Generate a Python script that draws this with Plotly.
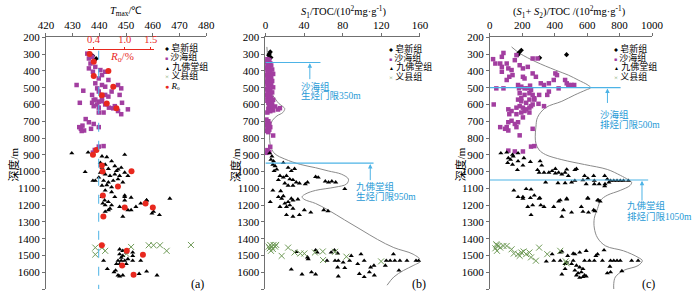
import plotly.graph_objects as go

W, H = 700, 293

# ---------------- data ----------------
# Panel (a): Tmax (°C) vs depth (m)
a_fx_T = [437.5, 438.8]
a_fx_D = [310, 327]
a_sh_T = [435.5, 436.1, 436.7, 437.3, 436.1, 437.6, 438.5, 440.4, 441.0, 442.2, 439.8, 438.5, 441.0, 442.2,
          439.8, 439.2, 443.4, 444.6, 447.0, 448.2, 447.6, 431.5, 434.0, 442.2, 437.3, 441.0, 437.9, 439.8,
          443.4, 438.5, 437.3, 439.2, 441.0, 437.9, 439.8, 442.2, 443.6, 445.2, 445.8, 447.0, 448.2, 448.5,
          450.7, 432.7, 441.6, 439.8, 434.9, 436.1, 437.9, 433.7, 433.1, 434.3, 436.9, 439.8, 432.5, 433.4,
          438.3, 439.8, 441.6, 437.6]
a_sh_D = [297, 326, 356, 316, 385, 405, 376, 395, 425, 405, 445, 474, 484, 494,
          523, 504, 454, 523, 484, 504, 543, 484, 518, 543, 543, 563, 573, 583,
          553, 571, 590, 600, 581, 610, 619, 600, 619, 623, 610, 639, 658, 590,
          629, 590, 648, 648, 687, 706, 716, 726, 745, 755, 745, 735, 735, 758,
          871, 851, 848, 887]
a_jf_T = [429.7, 435.8, 434.7, 441.0, 442.8, 444.6, 440.4, 442.2, 441.0, 443.4, 445.8, 447.0, 449.5, 440.4,
          442.2, 444.0, 445.8, 447.6, 449.5, 450.7, 439.8, 441.6, 443.4, 445.2, 447.0, 448.8, 441.0, 442.8,
          444.6, 437.6, 438.5, 446.4, 448.2, 442.2, 444.6, 457.7, 451.9, 449.5,
          441.0, 442.0, 443.4, 442.2, 444.6, 445.8, 449.5, 449.5, 447.6, 444.0, 443.4, 442.2, 450.7, 451.9,
          453.7, 455.5, 457.7, 459.7, 460.3, 462.5, 466.4, 448.8, 441.3,
          447.6, 448.8, 447.6, 448.8, 450.1, 452.5, 452.5, 441.6, 447.0, 448.2, 449.5, 450.7, 452.5, 455.5,
          446.4, 447.6, 448.8, 450.1, 443.0, 446.1, 445.5, 447.0, 447.6, 448.8, 454.9, 457.7, 461.6, 448.2]
a_jf_D = [890, 886, 1002, 909, 913, 938, 948, 958, 977, 983, 967, 987, 899, 1006,
          1016, 1025, 1016, 1025, 1006, 1025, 1035, 1054, 1064, 1054, 1045, 1064, 1083, 1080,
          1093, 1054, 1054, 996, 977, 1112, 1122, 1170, 1155, 1142,
          1151, 1171, 1181, 1200, 1200, 1151, 1151, 1171, 1210, 1220, 1229, 1239, 1229, 1229,
          1210, 1190, 1171, 1249, 1239, 1258, 1161, 1268, 1190,
          1463, 1472, 1492, 1502, 1482, 1482, 1502, 1531, 1531, 1531, 1531, 1521, 1531, 1531,
          1550, 1550, 1560, 1550, 1580, 1589, 1599, 1618, 1624, 1618, 1609, 1595, 1618, 1512]
a_yx_T = [438.5, 438.5, 442.2, 441.0, 451.9, 458.5, 460.3, 462.7, 465.2, 474.3, 450.1]
a_yx_D = [1453, 1494, 1472, 1453, 1449, 1439, 1439, 1439, 1472, 1437, 1490]
a_ro_R = [0.325, 0.405, 0.405, 0.686, 0.78, 0.56, 0.655, 0.84, 0.25, 0.456, 0.39, 0.56, 0.574,
          1.13, 0.87, 0.58, 0.59, 1.0, 1.40, 1.54, 0.56, 1.04, 1.35, 0.95, 1.17]
a_ro_D = [300, 346, 431, 401, 494, 545, 594, 623, 726, 871, 899, 963, 1000,
          998, 1089, 1142, 1268, 1214, 1190, 1214, 1439, 1472, 1496, 1560, 1614]

# Panel (b): S1/TOC vs depth
b_fx_V = [5.0, 3.4, 5.7, 4.0]
b_fx_D = [287, 306, 320, 300]
b_sh_V = [2, 4, 1, 3, 5, 2, 6, 3, 1, 4, 7, 2, 5, 3, 8, 1, 4, 6, 2, 5, 3, 7, 1, 4, 2, 6, 3, 8, 1, 5,
          2, 4, 7, 3, 1, 5, 2, 6, 4, 8, 2, 5, 3, 7, 4, 10, 6, 15, 13, 3, 8, 5, 2, 1, 3, 2, 4, 1, 3, 5,
          2, 4, 1, 3, 8, 5, 2, 3, 1, 4]
b_sh_D = [330, 335, 345, 350, 355, 362, 368, 375, 382, 388, 392, 398, 405, 412, 418, 425, 430, 436,
          442, 448, 455, 460, 466, 472, 478, 485, 492, 498, 505, 510, 516, 522, 528, 535, 542, 548,
          555, 560, 566, 572, 578, 585, 592, 598, 605, 612, 618, 622, 630, 625, 635, 640, 648, 690,
          700, 708, 715, 722, 728, 735, 742, 750, 758, 765, 785, 852, 872, 880, 888, 884]
b_jf_V = [4.4, 6.7, 5.7, 8.4, 7.7, 10, 11.7, 9, 18.5, 23.5, 26.8, 30.2, 15.1, 18.5, 21.8, 25.2, 28.5,
          31.9, 35.2, 41.3, 43.6, 52, 54.7, 62, 65.4, 68.8, 72.8, 82.2, 13.4, 20.1, 28.5, 7.7, 15.8, 23.5,
          5, 13.4, 16.8, 18.5, 20.1, 15.1, 21.8, 23.5, 26.8, 28.5, 25.2, 33.6, 21.8, 28.5, 35.2, 40.3,
          47, 60.4, 64.8, 28.5,
          31.9, 52, 53.7, 43.6, 44.3, 63.8, 68.1, 71.5, 74.8, 72.1, 75.5, 74.8, 80.5, 87.2, 88.9, 99,
          95.6, 102.3, 109, 112.4, 124.2, 125.2, 129.2, 132.6, 134, 139.3, 146.6, 156, 158.7, 138.3,
          26.8, 37.9, 47.7, 52, 75.5, 97.3, 102.3, 107.7, 112.8, 82.2]
b_jf_D = [890, 909, 929, 938, 958, 967, 987, 996, 948, 977, 996, 983, 1025, 1035, 1025, 1045, 1050,
          1064, 1070, 1074, 1064, 1031, 1035, 1058, 1064, 1058, 1064, 1103, 1050, 1070, 1083, 1112, 1116, 1083,
          1181, 1151, 1161, 1146, 1190, 1210, 1210, 1181, 1161, 1220, 1200, 1165, 1258, 1268, 1258, 1229,
          1243, 1229, 1235, 1171,
          1478, 1468, 1482, 1511, 1521, 1531, 1482, 1468, 1487, 1531, 1531, 1570, 1541, 1531, 1502, 1492,
          1550, 1531, 1570, 1560, 1560, 1531, 1531, 1492, 1531, 1531, 1531, 1531, 1531, 1589,
          1583, 1612, 1599, 1612, 1624, 1609, 1628, 1599, 1618, 1574]
b_yx_V = [5, 6.7, 8.4, 10, 4.4, 7.7, 5.7, 11.1, 3.4, 16.8, 23.5, 30.2, 36.2, 40.3, 51.3, 59.4, 59.7,
          72.1, 83.9, 119.8]
b_yx_D = [1437, 1447, 1437, 1447, 1457, 1461, 1472, 1437, 1447, 1502, 1453, 1482, 1488, 1488, 1482,
          1476, 1527, 1478, 1507, 1535]
b_env_V = [1.5, 2, 3, 4, 6, 10, 14, 18, 20, 18, 12, 7, 5, 4.4, 6, 10, 20, 36, 52, 65, 79, 86, 84, 72,
           52, 42, 38, 40, 52, 65, 82, 99, 116, 133, 153, 161, 153, 143, 133, 126]
b_env_D = [257, 300, 400, 480, 530, 565, 595, 612, 625, 648, 668, 697, 735, 813, 860, 895, 925, 957,
           977, 996, 1016, 1045, 1074, 1093, 1112, 1132, 1150, 1165, 1190, 1229, 1288, 1346, 1404, 1453,
           1492, 1531, 1560, 1589, 1628, 1677]

# Panel (c): (S1+S2)/TOC vs depth
c_fx_V = [180, 194, 307, 473, 174]
c_fx_D = [291, 277, 322, 303, 303]
c_sh_V = [20, 34, 74, 84, 64, 104, 74, 74, 114, 134, 140, 120, 104, 164, 154, 184, 204, 234, 264, 294,
          204, 214, 264, 284, 314, 334, 364, 394, 404, 414, 424, 464, 484, 504, 520, 474, 174, 180, 194,
          214, 234, 248, 254, 244, 214, 184, 264, 274, 194, 304, 40, 84, 364, 354,
          24, 114, 134, 164, 184, 204, 214, 224, 244, 264, 274, 244, 194, 174, 224, 254, 300, 334, 120,
          164, 194, 244, 204, 134, 114, 174, 154, 164, 104, 114, 64, 94, 184, 264, 114, 154, 204, 254, 274]
c_sh_D = [330, 356, 316, 293, 356, 356, 376, 405, 385, 395, 425, 435, 454, 306, 336, 366, 385, 376,
          326, 326, 435, 445, 415, 435, 474, 484, 474, 454, 415, 425, 504, 454, 484, 484, 484, 474, 484,
          504, 494, 504, 504, 488, 514, 533, 543, 533, 543, 563, 563, 543, 504, 504, 523, 543,
          600, 629, 639, 619, 610, 619, 639, 629, 619, 600, 571, 571, 581, 571, 590, 610, 596, 610, 658,
          658, 648, 648, 677, 697, 706, 706, 716, 735, 735, 755, 735, 745, 784, 745, 875, 880, 880, 851, 848]
c_jf_V = [68, 104, 140, 174, 114, 144, 128, 110, 140, 174, 210, 250, 204, 170, 310, 320, 294, 304, 334,
          364, 384, 404, 424, 444, 464, 484, 404, 474, 524, 534, 584, 574, 604, 640, 644, 708, 724, 744,
          764, 784, 804, 824, 854, 710, 708, 734, 344, 420, 464, 504, 524, 594, 644, 674, 148, 254, 224,
          204, 250, 304, 434, 474, 604, 664,
          174, 204, 274, 308, 234, 264, 314, 334, 254, 394, 424, 474, 454, 504, 564, 574, 604, 608, 640,
          648, 670, 680, 444,
          704, 664, 654, 644, 594, 554, 524, 584, 614, 694, 744, 764, 784, 804, 874, 914, 814, 744, 724,
          740, 348, 394, 384, 444, 434, 464, 474, 504, 514, 534, 554, 524, 544, 564, 574, 584, 594, 574,
          534, 554, 444, 464, 480, 514, 434]
c_jf_D = [890, 886, 899, 890, 919, 909, 929, 948, 958, 938, 919, 942, 963, 990, 938, 963, 990, 1006,
          1006, 1006, 996, 983, 1006, 1016, 1006, 1025, 1010, 987, 990, 983, 1025, 1051, 1041, 1025, 1054,
          1025, 1045, 1054, 1054, 1054, 1054, 1054, 1054, 1074, 1087, 1064, 1064, 1068, 1068, 1064, 1054,
          1074, 1074, 1074, 1112, 1106, 1103, 1151, 1157, 1161, 1170, 1161, 1157, 1170,
          1151, 1161, 1142, 1157, 1210, 1200, 1200, 1210, 1258, 1210, 1177, 1165, 1229, 1243, 1210, 1239,
          1161, 1243, 1229, 1235, 1171, 1177, 1268,
          1468, 1492, 1502, 1531, 1472, 1482, 1492, 1531, 1531, 1531, 1531, 1531, 1531, 1531, 1531, 1531,
          1593, 1599, 1605, 1566, 1535, 1531, 1492, 1476, 1531, 1550, 1541, 1550, 1531, 1560, 1570, 1589,
          1605, 1599, 1580, 1618, 1624, 1628, 1618, 1632, 1612, 1580, 1502, 1488, 1482]
c_yx_V = [44, 54, 64, 84, 104, 34, 44, 40, 134, 148, 174, 194, 208, 184, 224, 244, 254, 304, 284, 354,
          434, 468, 474]
c_yx_D = [1439, 1443, 1453, 1443, 1443, 1457, 1472, 1433, 1463, 1488, 1492, 1482, 1476, 1502, 1492,
          1482, 1511, 1453, 1531, 1492, 1472, 1535, 1547]
c_env_V = [134, 184, 284, 404, 484, 544, 604, 622, 594, 524, 444, 344, 294, 284, 280, 284, 304, 344, 444,
           584, 724, 804, 854, 874, 864, 804, 724, 684, 664, 644, 644, 664, 714, 824, 914, 940, 914, 824,
           774, 764, 764]
c_env_D = [257, 295, 346, 395, 425, 454, 484, 500, 513, 543, 581, 619, 677, 735, 793, 832, 871, 899, 929,
           958, 987, 1022, 1049, 1064, 1083, 1112, 1141, 1170, 1220, 1278, 1336, 1395, 1443, 1472, 1511,
           1531, 1560, 1589, 1628, 1667, 1700]

depth_ticks = list(range(200, 1800, 100))
a_ticks = [420, 430, 440, 450, 460, 470, 480]
b_ticks = [0, 40, 80, 120, 160]
c_ticks = [0, 200, 400, 600, 800, 1000]
ro_ticks = [0.4, 1.0, 1.5]
ro_ticktext = ["0.4", "1.0", "1.5"]
ro_threshold = 0.5
b_gates = [350, 950]
c_gates = [500, 1050]

# ---------------- styles ----------------
PURPLE = "#a23ea0"
GREEN = "#6f9a57"
RED = "#e8281e"
BLUE_LINE = "#4db3e6"
BLUE_TEXT = "#1f9ad6"
GREY = "#8a8a8a"
AXC = "#707070"
SERIF = "Liberation Serif, Times New Roman, serif"
CJK = "Liberation Serif, Noto Sans CJK SC, serif"


def px(x):
    return x / W


def py(y):
    return (H - y) / H


fig = go.Figure()


def add_groups(xa, ya, fx, sh, jf, yx):
    fig.add_trace(go.Scatter(x=fx[0], y=fx[1], mode="markers", xaxis=xa, yaxis=ya, cliponaxis=False,
                             marker=dict(symbol="diamond", size=4, color="black"), showlegend=False))
    fig.add_trace(go.Scatter(x=sh[0], y=sh[1], mode="markers", xaxis=xa, yaxis=ya, cliponaxis=False,
                             marker=dict(symbol="square", size=4.5, color=PURPLE), showlegend=False))
    fig.add_trace(go.Scatter(x=jf[0], y=jf[1], mode="markers", xaxis=xa, yaxis=ya, cliponaxis=False,
                             marker=dict(symbol="triangle-up", size=4.5, color="black"), showlegend=False))
    fig.add_trace(go.Scatter(x=yx[0], y=yx[1], mode="markers", xaxis=xa, yaxis=ya, cliponaxis=False,
                             marker=dict(symbol="x-thin", size=6, line=dict(color=GREEN, width=1)),
                             showlegend=False))


# envelopes
fig.add_trace(go.Scatter(x=b_env_V, y=b_env_D, mode="lines", xaxis="x2", yaxis="y2", cliponaxis=False,
                         line=dict(color=GREY, width=1, shape="spline", smoothing=1), showlegend=False))
fig.add_trace(go.Scatter(x=c_env_V, y=c_env_D, mode="lines", xaxis="x3", yaxis="y3", cliponaxis=False,
                         line=dict(color=GREY, width=1, shape="spline", smoothing=1), showlegend=False))

add_groups("x", "y", (a_fx_T, a_fx_D), (a_sh_T, a_sh_D), (a_jf_T, a_jf_D), (a_yx_T, a_yx_D))
add_groups("x2", "y2", (b_fx_V, b_fx_D), (b_sh_V, b_sh_D), (b_jf_V, b_jf_D), (b_yx_V, b_yx_D))
add_groups("x3", "y3", (c_fx_V, c_fx_D), (c_sh_V, c_sh_D), (c_jf_V, c_jf_D), (c_yx_V, c_yx_D))

fig.add_trace(go.Scatter(x=a_ro_R, y=a_ro_D, mode="markers", xaxis="x4", yaxis="y", cliponaxis=False,
                         marker=dict(symbol="circle", size=6, color=RED), showlegend=False))

# ---------------- axes ----------------
ydom = [py(289), py(32)]
yax = dict(range=[1700, 200], domain=ydom, tickvals=depth_ticks, ticks="outside", ticklen=3,
           tickcolor=AXC, showline=True, linecolor=AXC, linewidth=1, showgrid=False, zeroline=False,
           tickfont=dict(family=SERIF, size=11, color="black"))
xcommon = dict(side="top", ticks="outside", ticklen=3, tickcolor=AXC, showline=True, linecolor=AXC,
               linewidth=1, showgrid=False, zeroline=False, tickfont=dict(family=SERIF, size=11, color="black"))

fig.update_layout(
    width=W, height=H, margin=dict(l=0, r=0, t=0, b=0),
    paper_bgcolor="white", plot_bgcolor="rgba(0,0,0,0)", showlegend=False,
    xaxis=dict(domain=[px(39), px(204)], range=[420, 480], tickvals=a_ticks, anchor="y", **xcommon),
    xaxis2=dict(domain=[px(265), px(424)], range=[0, 160], tickvals=b_ticks, anchor="y2", **xcommon),
    xaxis3=dict(domain=[px(496), px(663)], range=[0, 1000], tickvals=c_ticks, anchor="y3", **xcommon),
    xaxis4=dict(domain=[px(82), px(150)], range=[0.288, 1.557], anchor="free", position=py(44), side="top",
                tickvals=ro_ticks, ticktext=ro_ticktext, ticks="outside", ticklen=2, tickcolor=RED,
                showline=True, linecolor=RED, linewidth=1, showgrid=False, zeroline=False,
                tickfont=dict(family=SERIF, size=10.5, color=RED)),
    yaxis=dict(anchor="x", **yax),
    yaxis2=dict(anchor="x2", **yax),
    yaxis3=dict(anchor="x3", **yax),
)

# dashed Ro threshold line in panel (a)
fig.add_shape(type="line", xref="x4", yref="y", x0=ro_threshold, x1=ro_threshold, y0=280, y1=1700,
              line=dict(color=BLUE_LINE, width=1, dash="dash"))

# gate lines
fig.add_shape(type="line", xref="x2", yref="y2", x0=0, x1=57, y0=b_gates[0], y1=b_gates[0],
              line=dict(color=BLUE_LINE, width=1.2))
fig.add_shape(type="line", xref="x2", yref="y2", x0=0, x1=112, y0=b_gates[1], y1=b_gates[1],
              line=dict(color=BLUE_LINE, width=1.2))
fig.add_shape(type="line", xref="x3", yref="y3", x0=0, x1=806, y0=c_gates[0], y1=c_gates[0],
              line=dict(color=BLUE_LINE, width=1.2))
fig.add_shape(type="line", xref="x3", yref="y3", x0=0, x1=976, y0=c_gates[1], y1=c_gates[1],
              line=dict(color=BLUE_LINE, width=1.2))

ann = []


def arrow(xr, yr, x, y0, y1):
    ann.append(dict(xref=xr, yref=yr, axref=xr, ayref=yr, x=x, y=y0, ax=x, ay=y1, text="",
                    showarrow=True, arrowhead=2, arrowsize=0.9, arrowwidth=1, arrowcolor=BLUE_LINE))


arrow("x2", "y2", 46, b_gates[0] + 4, 458)
arrow("x2", "y2", 108.6, b_gates[1] + 4, 1060)
arrow("x3", "y3", 725, c_gates[0] + 5, 600)
arrow("x3", "y3", 938, c_gates[1] + 5, 1182)


def blue_text(xr, yr, x, y, t):
    ann.append(dict(xref=xr, yref=yr, x=x, y=y, text=t, showarrow=False, xanchor="left", yanchor="middle",
                    font=dict(family=CJK, size=9.5, color=BLUE_TEXT)))


blue_text("x2", "y2", 35, 490, "沙海组")
blue_text("x2", "y2", 35, 547, "生烃门限350m")
blue_text("x2", "y2", 91.5, 1087, "九佛堂组")
blue_text("x2", "y2", 91.5, 1150, "生烃门限950m")
blue_text("x3", "y3", 665, 659, "沙海组")
blue_text("x3", "y3", 665, 718, "排烃门限500m")
blue_text("x3", "y3", 832, 1204, "九佛堂组")
blue_text("x3", "y3", 832, 1266, "排烃门限1050m")


def ptext(x, y, t, size=11, color="black", anchor="center", angle=0, family=SERIF):
    ann.append(dict(xref="paper", yref="paper", x=px(x), y=py(y), text=t, showarrow=False,
                    xanchor=anchor, yanchor="middle", textangle=angle,
                    font=dict(family=family, size=size, color=color)))


# axis titles
ptext(121, 6, "<i>T</i><sub>max</sub>/℃", size=10.5)
ptext(346, 6, "<i>S</i><sub>1</sub>/TOC/(10<sup>2</sup>mg·g<sup>-1</sup>)", size=10.5)
ptext(578, 6, "(<i>S</i><sub>1</sub>+ <i>S</i><sub>2</sub>)/TOC /(10<sup>2</sup>mg·g<sup>-1</sup>)", size=10.5)
ptext(117, 52, "<i>R</i><sub>o</sub>/%", size=11, color=RED)
for xx in (6, 234, 466):
    ptext(xx, 162, "深度/m", size=11, angle=-90, family=CJK)

# panel labels
ptext(195, 284, "(a)", size=12)
ptext(423, 284, "(b)", size=12)
ptext(659, 284, "(c)", size=12)

# legends
def legend_rows(xm, ys, items):
    for y, (sym, col, ssize, label) in zip(ys, items):
        ptext(xm - 3, y, '<span style="color:%s;font-size:%dpx">%s</span> %s' % (col, ssize, sym, label),
              size=9, anchor="left", family=CJK)


base_items = [("◆", "black", 4, "皂新组"), ("■", PURPLE, 5, "沙海组"), ("▲", "black", 5, "九佛堂组"),
              ("×", GREEN, 7, "义县组")]
legend_rows(163, [42.5, 52, 61.5, 71, 81.5], base_items + [("●", RED, 7, "<i>R</i>ₒ")])
legend_rows(393, [43, 52.5, 62, 71.5], base_items)
legend_rows(625, [43, 52.5, 62, 71.5], base_items)

fig.update_layout(annotations=ann)
fig.write_html("out.html", config={"displayModeBar": False},
               post_script="document.body.style.margin='0';document.body.style.padding='0';"
                           "document.body.style.overflow='hidden';")
